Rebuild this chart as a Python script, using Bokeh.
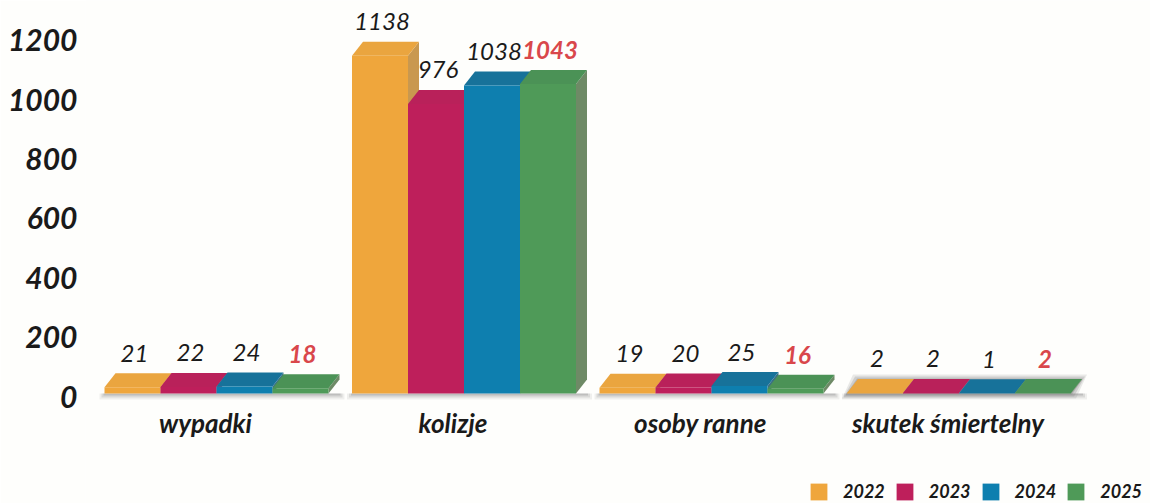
from bokeh.plotting import figure
from bokeh.embed import file_html
from bokeh.resources import INLINE
from bokeh.models import (Range1d, LinearAxis, FixedTicker, Legend, LegendItem,
                          ColumnDataSource)
from bokeh.core.properties import value

categories = ["wypadki", "kolizje", "osoby ranne", "skutek śmiertelny"]
years = ["2022", "2023", "2024", "2025"]
v2022 = [21, 1138, 19, 2]
v2023 = [22, 976, 20, 2]
v2024 = [24, 1038, 25, 1]
v2025 = [18, 1043, 16, 2]
y_ticks = [0, 200, 400, 600, 800, 1000, 1200]

series = [v2022, v2023, v2024, v2025]
front_cols = ["#EFA63C", "#BE1F5B", "#0E7FAF", "#4F9A58"]
top_cols = ["#EAA53F", "#B9215A", "#17729A", "#4B9256"]
side_cols = ["#C9984F", "#A33A62", "#3A6F85", "#6E8A66"]
text_cols = ["#1A1A1A", "#1A1A1A", "#1A1A1A", "#D9474B"]
text_styles = ["italic", "italic", "italic", "bold italic"]
FONT = "Lato"
BG = "#FEFEFC"

W, H = 1150, 503
PX_X = 247.5        # px per category
PX_Y = 0.2967       # px per value unit
BASE = 393          # canvas y of zero
ORIGIN = 205        # canvas x of first category
LEFT = 85
AXIS_Y = 405        # canvas y of the category axis

p = figure(width=W, height=H, output_backend="svg", toolbar_location=None,
           x_range=Range1d((LEFT - ORIGIN) / PX_X, (W - ORIGIN) / PX_X),
           y_range=Range1d(-(H - BASE) / PX_Y, BASE / PX_Y),
           y_axis_location=None, min_border_left=LEFT, min_border_right=0,
           min_border_top=0, min_border_bottom=0,
           background_fill_color=BG, border_fill_color=BG, outline_line_color=None)
p.grid.visible = False

bar_w = 56 / PX_X
shift = 11 / PX_X
dx = 11 / PX_X
dy = 14 / PX_Y
n = len(categories)

# soft ground shadows
gx0 = [i + shift - 2 * bar_w for i in range(n)]
gx1 = [i + shift + 2 * bar_w + dx for i in range(n)]
for grow, alpha in [(5, 0.12), (3, 0.2), (1, 0.3)]:
    p.quad(left=[a - grow / PX_X for a in gx0], right=[b + grow / PX_X for b in gx1],
           bottom=[-(1 + grow) / PX_Y] * n, top=[0] * n, color="#808080", alpha=alpha, line_color=None)
    hl, hr = gx0[3] - grow / PX_X, gx1[3] + grow / PX_X - dx
    p.patches(xs=[[hl, hl + dx, hr + dx, hr]],
              ys=[[-grow / PX_Y, dy + grow / PX_Y, dy + grow / PX_Y, -grow / PX_Y]],
              color="#808080", alpha=alpha + 0.05, line_color=None)

items = []
for k, vals in enumerate(series):
    xc = [i + shift + (k - 1.5) * bar_w for i in range(n)]
    xl = [x - bar_w / 2 for x in xc]
    xr = [x + bar_w / 2 for x in xc]
    p.patches(xs=[[a, b, b + dx, a + dx] for a, b in zip(xr, xr)],
              ys=[[0, v, v + dy, dy] for v in vals], color=side_cols[k], line_color=None)
    p.patches(xs=[[a, a + dx, b + dx, b] for a, b in zip(xl, xr)],
              ys=[[v, v + dy, v + dy, v] for v in vals], color=top_cols[k], line_color=None)
    r = p.vbar(x=xc, width=bar_w, bottom=0, top=vals, color=front_cols[k], line_color=None)
    items.append(LegendItem(label=years[k], renderers=[r]))

for k, vals in enumerate(series):
    xc = [i + shift + (k - 1.5) * bar_w + 2 / PX_X for i in range(n)]
    src = ColumnDataSource(dict(x=xc, y=vals, t=[str(v) for v in vals]))
    p.text(x="x", y="y", text="t", source=src, y_offset=-34, text_align="center",
           text_baseline="middle", text_font=value(FONT), text_font_size="24px",
           text_font_style=text_styles[k], text_color=text_cols[k])

# category axis, drawn inside the frame so that the legend can lie below it
p.xaxis.fixed_location = -(AXIS_Y - BASE) / PX_Y
p.xaxis.ticker = FixedTicker(ticks=list(range(n)))
p.xaxis.major_label_overrides = {i: c for i, c in enumerate(categories)}
p.xaxis.axis_line_color = None
p.xaxis.major_tick_line_color = None
p.xaxis.minor_tick_line_color = None
p.xaxis.major_tick_out = 0
p.xaxis.major_tick_in = 0
p.xaxis.major_label_standoff = 1
p.xaxis.major_label_text_font = FONT
p.xaxis.major_label_text_font_size = "26px"
p.xaxis.major_label_text_font_style = "bold italic"
p.xaxis.major_label_text_color = "#1A1A1A"

# value axis, 3 px lower than the bars' zero as in the reference
off = 3 / PX_Y
p.extra_y_ranges = {"ticks": Range1d(p.y_range.start + off, p.y_range.end + off)}
ya = LinearAxis(y_range_name="ticks", ticker=FixedTicker(ticks=y_ticks),
                axis_line_color=None, major_tick_line_color=None, minor_tick_line_color=None,
                major_tick_out=0, major_tick_in=0, major_label_standoff=8,
                major_label_text_font=FONT, major_label_text_font_size="30px",
                major_label_text_font_style="bold italic", major_label_text_color="#1A1A1A")
p.add_layout(ya, "left")

legend = Legend(items=items, orientation="horizontal", location=(723, 1),
                glyph_width=21, glyph_height=21, label_standoff=14, spacing=9,
                padding=0, margin=0, border_line_color=None, background_fill_alpha=0,
                label_text_font=FONT, label_text_font_size="18px",
                label_text_font_style="bold italic", label_text_color="#1A1A1A")
p.add_layout(legend, "center")

open("out.html", "w").write(file_html(p, INLINE))
